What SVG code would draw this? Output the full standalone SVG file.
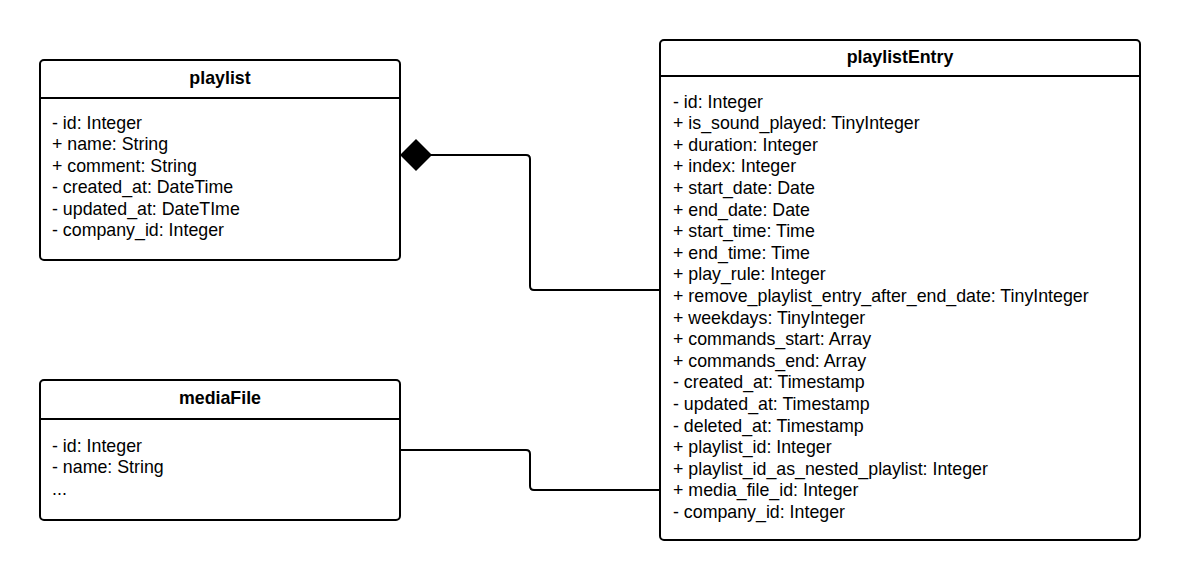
<svg xmlns="http://www.w3.org/2000/svg" width="1180" height="580" viewBox="0 0 1180 580">
<style>
.box{fill:#fff;stroke:#000;stroke-width:2}
.div{stroke:#000;stroke-width:2}
.t{font-family:"Liberation Sans",Arial,sans-serif;font-size:17.8px;fill:#000}
.h{font-family:"Liberation Sans",Arial,sans-serif;font-size:17.8px;font-weight:bold;fill:#000;text-anchor:middle}
.c{fill:none;stroke:#000;stroke-width:2}
</style>
<rect width="1180" height="580" fill="#fff"/>
<g id="connectors">
<path class="c" d="M430,155 H526 Q530,155 530,159 V286 Q530,290 534,290 H660"/>
<polygon points="400,155 416,139 432,155 416,171" fill="#000"/>
<path class="c" d="M400,450 H526 Q530,450 530,454 V486 Q530,490 534,490 H660"/>
</g>
<g id="playlist">
<rect class="box" x="40" y="60" width="360" height="200" rx="4"/>
<line class="div" x1="40" y1="98" x2="400" y2="98"/>
<text class="h" x="220" y="84">playlist</text>
<text class="t" x="52" y="128.5">- id: Integer</text>
<text class="t" x="52" y="150">+ name: String</text>
<text class="t" x="52" y="171.5">+ comment: String</text>
<text class="t" x="52" y="193">- created_at: DateTime</text>
<text class="t" x="52" y="214.5">- updated_at: DateTIme</text>
<text class="t" x="52" y="236">- company_id: Integer</text>
</g>
<g id="mediaFile">
<rect class="box" x="40" y="380" width="360" height="140" rx="4"/>
<line class="div" x1="40" y1="419" x2="400" y2="419"/>
<text class="h" x="220" y="404">mediaFile</text>
<text class="t" x="52" y="451.5">- id: Integer</text>
<text class="t" x="52" y="473">- name: String</text>
<text class="t" x="52" y="494.5">...</text>
</g>
<g id="playlistEntry">
<rect class="box" x="660" y="40" width="480" height="500" rx="4"/>
<line class="div" x1="660" y1="76" x2="1140" y2="76"/>
<text class="h" x="900" y="63">playlistEntry</text>
<text class="t" x="673" y="107.5">- id: Integer</text>
<text class="t" x="673" y="129.1">+ is_sound_played: TinyInteger</text>
<text class="t" x="673" y="150.7">+ duration: Integer</text>
<text class="t" x="673" y="172.3">+ index: Integer</text>
<text class="t" x="673" y="193.9">+ start_date: Date</text>
<text class="t" x="673" y="215.5">+ end_date: Date</text>
<text class="t" x="673" y="237.1">+ start_time: Time</text>
<text class="t" x="673" y="258.7">+ end_time: Time</text>
<text class="t" x="673" y="280.3">+ play_rule: Integer</text>
<text class="t" x="673" y="301.9">+ remove_playlist_entry_after_end_date: TinyInteger</text>
<text class="t" x="673" y="323.5">+ weekdays: TinyInteger</text>
<text class="t" x="673" y="345.1">+ commands_start: Array</text>
<text class="t" x="673" y="366.7">+ commands_end: Array</text>
<text class="t" x="673" y="388.3">- created_at: Timestamp</text>
<text class="t" x="673" y="409.9">- updated_at: Timestamp</text>
<text class="t" x="673" y="431.5">- deleted_at: Timestamp</text>
<text class="t" x="673" y="453.1">+ playlist_id: Integer</text>
<text class="t" x="673" y="474.7">+ playlist_id_as_nested_playlist: Integer</text>
<text class="t" x="673" y="496.3">+ media_file_id: Integer</text>
<text class="t" x="673" y="517.9">- company_id: Integer</text>
</g>
</svg>
